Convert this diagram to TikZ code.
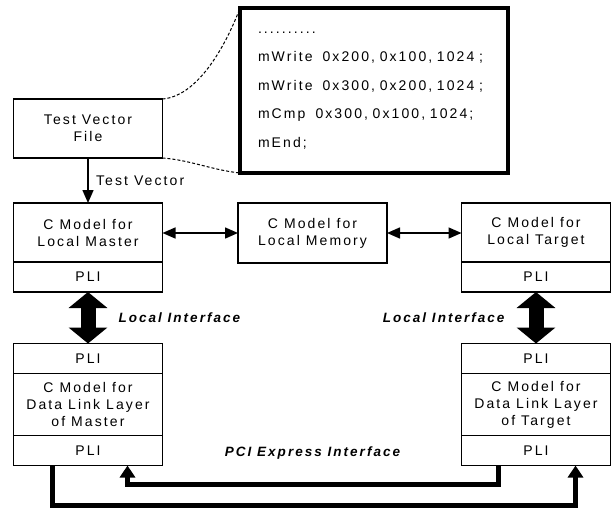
\documentclass[tikz,border=0pt]{standalone}
\usepackage{fontspec}
\setmainfont{Liberation Sans}[LetterSpace=15]
\usetikzlibrary{positioning, arrows.meta, calc}

\begin{document}
\begin{tikzpicture}[
  x=1pt, y=-1pt,
  font=\fontsize{14}{17}\selectfont,
  node distance=0pt,
  blk/.style={
    draw, line width=1.2pt, outer sep=0pt, align=center,
    minimum width=149pt, minimum height=59pt, inner sep=0pt
  },
  pli/.style={blk, minimum height=30pt},
  dll/.style={blk, minimum height=62pt},
  lbl/.style={font=\fontsize{13.5}{16}\selectfont\bfseries\itshape},
  thin/.style={line width=1.5pt, -{Triangle[length=13pt, width=11pt]}},
  thinboth/.style={thin, {Triangle[length=13pt, width=11pt]}-{Triangle[length=13pt, width=11pt]}},
  fat/.style={line width=15pt, {Triangle[length=16pt, width=38pt]}-{Triangle[length=16pt, width=38pt]}},
  bus/.style={line width=5pt, -{Triangle[length=12pt, width=15pt]}},
  zoomline/.style={line width=1pt, dash pattern=on 3pt off 2pt}
]
\useasboundingbox (0,0) rectangle (611,515);

% input file and its contents
\node[blk] (file) at (88,128.5) {Test Vector\\File};
\node[draw, line width=3.5pt, outer sep=0pt, minimum width=268pt, minimum height=165pt,
  text width=232pt, inner xsep=18pt, align=left,
  font=\fontsize{14}{28.5}\selectfont] (code) at (374,90.5)
  {..........\\
   mWrite\hspace{10pt}0x200, 0x100, 1024 ;\\
   mWrite\hspace{10pt}0x300, 0x200, 1024 ;\\
   mCmp\hspace{10pt}0x300, 0x100, 1024;\\
   mEnd;};
\draw[zoomline] (file.north east) .. controls (200,96) and (228,40) .. (code.north west);
\draw[zoomline] (file.south east) .. controls (190,160) and (212,170) .. (code.south west);

% local side
\node[blk] (master) at (88,232.5) {C Model for\\Local Master};
\node[pli, below=of master] (masterpli) {PLI};
\node[blk, minimum height=60pt] (memory) at (312.5,233) {C Model for\\Local Memory};
\node[blk] (target) at (536,232.5) {C Model for\\Local Target};
\node[pli, below=of target] (targetpli) {PLI};

% data link layer side
\node[pli] (mdlin) at (88,358.5) {PLI};
\node[dll, below=of mdlin] (mdl) {C Model for\\Data Link Layer\\of Master};
\node[pli, below=of mdl] (mdlout) {PLI};
\node[pli] (tdlin) at (536,358.5) {PLI};
\node[dll, below=of tdlin] (tdl) {C Model for\\Data Link Layer\\of Target};
\node[pli, below=of tdl] (tdlout) {PLI};

% connectors
\draw[thin] (file) -- node[right=4pt] (tvlabel) {Test Vector} (master);
\draw[thinboth] (master.east |- memory) -- (memory);
\draw[thinboth] (memory) -- (target.west |- memory);
\draw[fat] (masterpli) -- (mdlin);
\draw[fat] (targetpli) -- (tdlin);
\node[lbl, anchor=west] (lilabel) at (115,318) {Local Interface};
\node[lbl, anchor=east] (lirlabel) at (508,318) {Local Interface};
\node[lbl] (pcilabel) at (312.5,453) {PCI Express Interface};

\draw[bus] ([xshift=39pt]mdlout.south west) -- ++(0,40)
  -| ([xshift=-35pt]tdlout.south east);
\draw[bus] ([xshift=37pt]tdlout.south west) -- ++(0,19)
  -| ([xshift=-35pt]mdlout.south east);
\end{tikzpicture}
\end{document}
